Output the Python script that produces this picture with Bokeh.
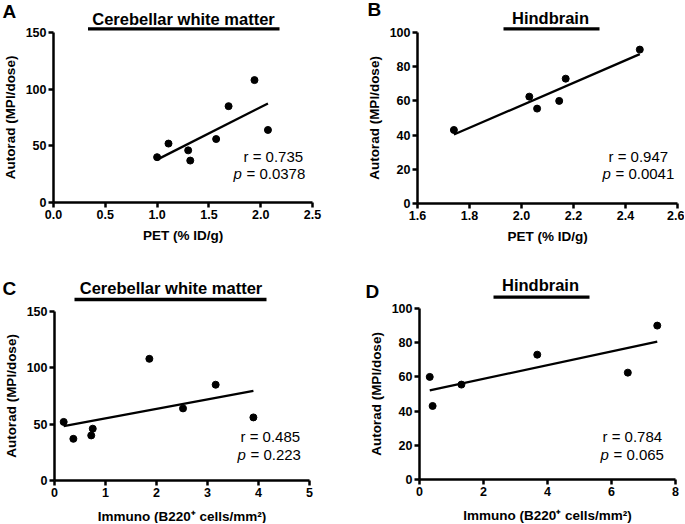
import numpy as np
from bokeh.plotting import figure
from bokeh.models import Range1d, FixedTicker, Label, Arrow
from bokeh.layouts import gridplot
from bokeh.embed import file_html
from bokeh.resources import INLINE

# ---------------- data ----------------
pet_cwm = [1.00, 1.11, 1.30, 1.32, 1.57, 1.69, 1.94, 2.07]
autorad_cwm = [40, 52, 46, 37, 56, 85, 108, 64]
immuno_cwm = [0.72, 0.18, 0.75, 0.37, 3.90, 3.16, 1.86, 2.52]

pet_hb = [1.74, 2.03, 2.06, 2.145, 2.17, 2.455]
autorad_hb = [43, 62.5, 55.5, 60, 73, 90]
immuno_hb = [0.41, 6.51, 1.31, 0.32, 3.68, 7.43]

xticks_a = [0, 0.5, 1.0, 1.5, 2.0, 2.5]
xlabels_a = ["0.0", "0.5", "1.0", "1.5", "2.0", "2.5"]
xticks_b = [1.6, 1.8, 2.0, 2.2, 2.4, 2.6]
xlabels_b = ["1.6", "1.8", "2.0", "2.2", "2.4", "2.6"]
xticks_c = [0, 1, 2, 3, 4, 5]
xlabels_c = ["0", "1", "2", "3", "4", "5"]
xticks_d = [0, 2, 4, 6, 8]
xlabels_d = ["0", "2", "4", "6", "8"]
yticks_cwm = [0, 50, 100, 150]
yticks_hb = [0, 20, 40, 60, 80, 100]

titles = ["Cerebellar white matter", "Hindbrain", "Cerebellar white matter", "Hindbrain"]
letters = ["A", "B", "C", "D"]
r_texts = ["r = 0.735", "r = 0.947", "r = 0.485", "r = 0.784"]
p_texts = ["= 0.0378", "= 0.0041", "= 0.223", "= 0.065"]
xlab_pet = "PET (% ID/g)"
xlab_imm = "Immuno (B220\u207a cells/mm\u00b2)"
ylab = "Autorad (MPI/dose)"

FONT = "Liberation Sans"
FIX = 6  # label baseline correction in px


def make_panel(cfg):
    (x, y, xr, yr, xt, xl, yt, xlab, title, letter, rt, pt,
     frame, orig, size, xstand, lay) = cfg
    fx0, fx1, fy0, fy1 = frame
    ox, oy = orig
    W, H = size

    # page pixel -> data
    def dx(rx):
        return xr[0] + (rx - fx0) / (fx1 - fx0) * (xr[1] - xr[0])

    def dy(ry):
        return yr[0] + (fy1 - ry) / (fy1 - fy0) * (yr[1] - yr[0])

    p = figure(width=W, height=H,
               x_range=Range1d(dx(ox), dx(ox + W)),
               y_range=Range1d(dy(oy + H), dy(oy)),
               output_backend="svg", toolbar_location=None,
               min_border=0, min_border_left=0, min_border_right=0,
               min_border_top=0, min_border_bottom=0)
    p.outline_line_color = None
    p.grid.visible = False
    p.background_fill_color = "white"
    p.border_fill_color = "white"

    p.xaxis.fixed_location = yr[0]
    p.yaxis.fixed_location = xr[0]
    p.xaxis.bounds = xr
    p.yaxis.bounds = yr

    for ax, ticks, labels in ((p.xaxis[0], xt, xl), (p.yaxis[0], yt, [str(v) for v in yt])):
        ax.ticker = FixedTicker(ticks=ticks)
        ax.major_label_overrides = {t: l for t, l in zip(ticks, labels)}
        ax.minor_tick_line_color = None
        ax.axis_line_width = 2.5
        ax.major_tick_line_width = 2.5
        ax.major_tick_out = 5
        ax.major_tick_in = 0
        ax.major_label_text_font = FONT
        ax.major_label_text_font_style = "bold"
        ax.major_label_text_font_size = "12.5px"
        ax.major_label_text_color = "black"
        ax.major_label_standoff = 2
        ax.axis_label_text_font = FONT
        ax.axis_label_text_font_style = "bold"
        ax.axis_label_text_font_size = "13.5px"
        ax.axis_label_text_color = "black"
    p.xaxis.axis_label = xlab
    p.yaxis.axis_label = ylab
    p.xaxis.axis_label_standoff = xstand
    p.yaxis.axis_label_standoff = 5

    # regression line computed from data
    slope, icpt = np.polyfit(x, y, 1)
    xs = np.array([min(x), max(x)])
    p.line(xs, slope * xs + icpt, line_color="black", line_width=2.3)
    p.scatter(x, y, size=7, color="black")

    (lx, lb, tcx, tb, ux0, ux1, uy, rx_, rb, px_, pb) = lay
    p.add_layout(Label(x=dx(lx), y=dy(lb - FIX), text=letter, text_font=FONT,
                       text_font_style="bold", text_font_size="19px",
                       text_align="left", text_baseline="alphabetic", text_color="black"))
    p.add_layout(Label(x=dx(tcx), y=dy(tb - FIX), text=title, text_font=FONT,
                       text_font_style="bold", text_font_size="16.5px",
                       text_align="center", text_baseline="alphabetic", text_color="black"))
    p.add_layout(Arrow(end=None, x_start=dx(ux0), y_start=dy(uy), x_end=dx(ux1), y_end=dy(uy),
                       line_width=3.3, line_color="black"))
    p.add_layout(Label(x=dx(rx_), y=dy(rb - FIX), text=rt, text_font=FONT,
                       text_font_size="15px", text_align="left",
                       text_baseline="alphabetic", text_color="black"))
    p.add_layout(Label(x=dx(px_), y=dy(pb - FIX), text="p", text_font=FONT,
                       text_font_style="italic", text_font_size="15px", text_align="left",
                       text_baseline="alphabetic", text_color="black"))
    p.add_layout(Label(x=dx(px_ + 13), y=dy(pb - FIX), text=pt, text_font=FONT,
                       text_font_size="15px", text_align="left",
                       text_baseline="alphabetic", text_color="black"))
    return p


cfgs = [
    (pet_cwm, autorad_cwm, (0, 2.5), (0, 150), xticks_a, xlabels_a, yticks_cwm, xlab_pet,
     titles[0], letters[0], r_texts[0], p_texts[0],
     (53, 312, 32, 202), (0, 0), (342, 262), 6,
     (2, 16.7, 183, 24, 87.5, 279, 28.3, 243, 161.7, 233, 179)),
    (pet_hb, autorad_hb, (1.6, 2.6), (0, 100), xticks_b, xlabels_b, yticks_hb, xlab_pet,
     titles[1], letters[1], r_texts[1], p_texts[1],
     (417, 677, 32, 203), (342, 0), (342, 262), 6,
     (367, 15, 550, 23.3, 503, 599, 28.3, 608, 161.7, 602, 179)),
    (immuno_cwm, autorad_cwm, (0, 5), (0, 150), xticks_c, xlabels_c, yticks_cwm, xlab_imm,
     titles[2], letters[2], r_texts[2], p_texts[2],
     (54, 309, 311, 480), (0, 262), (342, 261), 9,
     (2, 294, 170.5, 293.3, 74, 266, 299, 240, 441.7, 237, 460)),
    (immuno_hb, autorad_hb, (0, 8), (0, 100), xticks_d, xlabels_d, yticks_hb, xlab_imm,
     titles[3], letters[3], r_texts[3], p_texts[3],
     (419, 675, 308, 479), (342, 262), (342, 261), 9,
     (365, 297, 540, 290.7, 493, 589, 296.7, 602, 441.7, 600, 460)),
]

panels = [make_panel(c) for c in cfgs]
grid = gridplot([[panels[0], panels[1]], [panels[2], panels[3]]], toolbar_location=None)

open("out.html", "w").write(file_html(grid, INLINE))
